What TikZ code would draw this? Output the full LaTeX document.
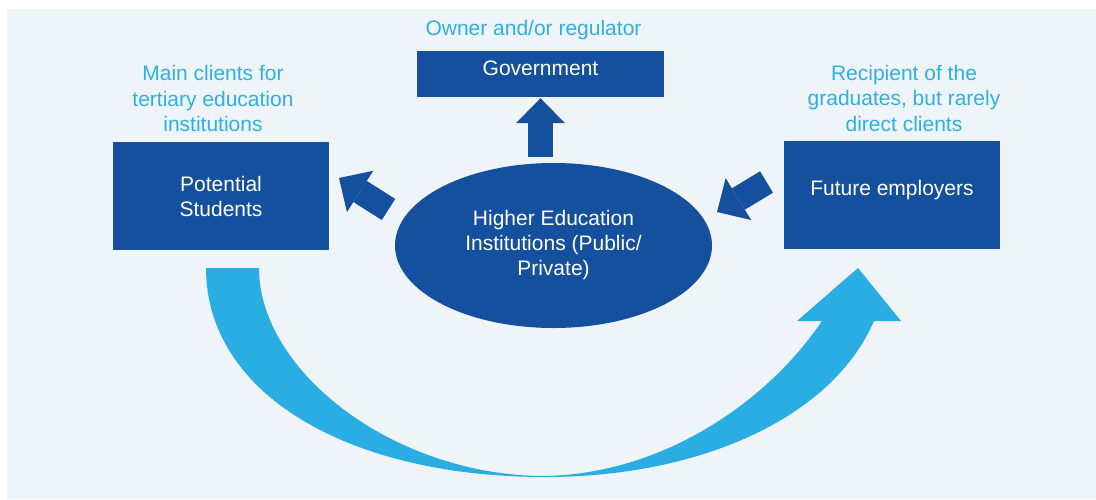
\documentclass[tikz,border=0pt]{standalone}
\usepackage{fontspec}
\setmainfont{Liberation Sans}
\usetikzlibrary{arrows.meta,shapes.geometric}
\definecolor{dblue}{HTML}{14509E}
\definecolor{lblue}{HTML}{2DB0E6}
\definecolor{carrow}{HTML}{2AADE3}
\definecolor{panel}{HTML}{EFF4F9}
\begin{document}
\begin{tikzpicture}[x=1pt,y=1pt,
  box/.style={fill=dblue, inner sep=0pt, text=white, align=center,
    font=\fontsize{21}{25}\selectfont},
  lbl/.style={text=lblue, inner sep=0pt, align=center,
    font=\fontsize{21}{25.5}\selectfont},
  fatarrow/.style={draw=dblue, line width=25pt,
    -{Triangle[length=25pt,width=49pt,line width=0pt,fill=dblue]}},
]
\useasboundingbox (0,0) rectangle (1096,-499);
\fill[panel] (7,-9) rectangle (1096,-499);

% labels
\node[lbl, anchor=base] (lgov) at (533.5,-35) {Owner and/or regulator};
\node[lbl] (lps) at (213,-98.9) {Main clients for\\tertiary education\\institutions};
\node[lbl] (lfe) at (904,-98.2) {Recipient of the\\graduates, but rarely\\direct clients};

% boxes
\node[box, minimum width=247pt, minimum height=46pt, text depth=11.3pt] (gov) at (540.5,-74) {Government};
\node[box, minimum width=216pt, minimum height=108pt] (ps) at (221,-196) {Potential\\Students};
\node[box, minimum width=216pt, minimum height=108pt, text depth=14pt] (fe) at (892,-195) {Future employers};
\node[box, ellipse, minimum width=317pt, minimum height=165pt] (hei) at (553.5,-245.5)
  {Higher Education\\Institutions (Public/\\Private)};

% block arrows
\coordinate (l1) at (388.5,-209.5);
\coordinate (l2) at (339,-178);
\coordinate (r1) at (766.5,-182);
\coordinate (r2) at (717,-212);
\draw[fatarrow, shorten <=6pt, shorten >=1pt] (hei.north -| gov.south) -- (gov.south);
\draw[fatarrow] (l1) -- (l2);
\draw[fatarrow] (r1) -- (r2);

% curved arrow
\fill[carrow] (206,-268) -- (259,-268)
  .. controls (259,-372) and (395,-476) .. (545,-476)
  .. controls (660,-474) and (765,-405) .. (822,-321)
  -- (797,-321) -- (858,-268) -- (901,-321) -- (874,-321)
  .. controls (832,-418) and (700,-477) .. (545,-477)
  .. controls (350,-477) and (206,-395) .. (206,-268) -- cycle;
\end{tikzpicture}
\end{document}
